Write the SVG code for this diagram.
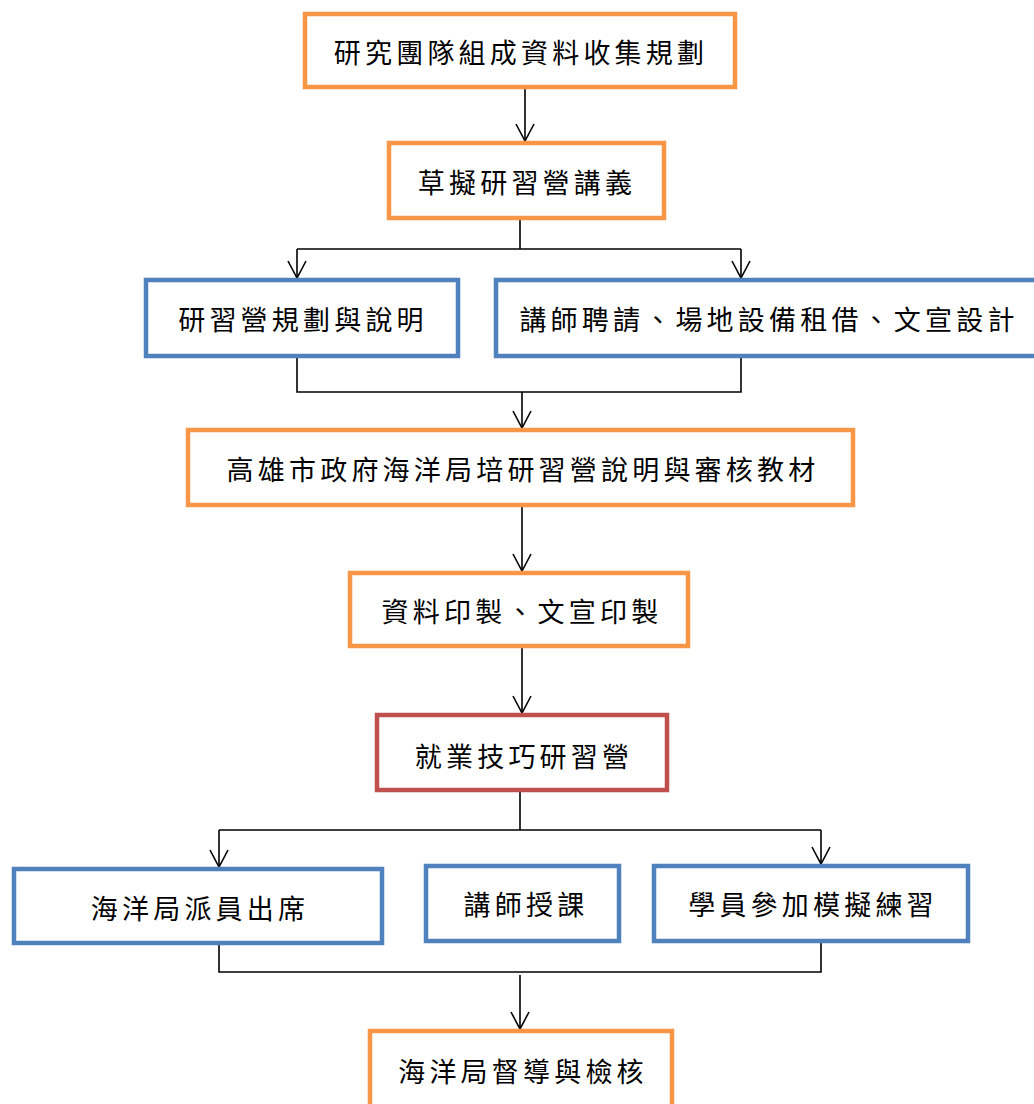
<svg xmlns="http://www.w3.org/2000/svg" width="1034" height="1104" viewBox="0 0 1034 1104">
<style>
.box{fill:#fff;stroke-width:4.5}
.o{stroke:#F79646}
.b{stroke:#4F81BD}
.r{stroke:#C0504D}
.t{font-family:"Noto Sans CJK TC","Noto Sans CJK SC",sans-serif;font-size:27px;letter-spacing:4.2px;text-anchor:middle;dominant-baseline:central;fill:#000}
.c{fill:none;stroke:#000;stroke-width:1.6}
</style>
<defs>
<marker id="ah" markerUnits="userSpaceOnUse" viewBox="-20 -12 22 24" markerWidth="22" markerHeight="24" refX="0" refY="0" orient="auto" overflow="visible">
<path d="M-17,-9 L0,0 L-17,9" fill="none" stroke="#000" stroke-width="1.6"/>
</marker>
</defs>
<rect width="1034" height="1104" fill="#fff"/>
<g id="connectors">
<path class="c" d="M525,89 V141" marker-end="url(#ah)"/>
<path class="c" d="M520,220 V249 M297,249 H741"/>
<path class="c" d="M297,249 V278" marker-end="url(#ah)"/>
<path class="c" d="M741,249 V278" marker-end="url(#ah)"/>
<path class="c" d="M297,358 V392 H741 V358"/>
<path class="c" d="M522,392 V428" marker-end="url(#ah)"/>
<path class="c" d="M522,507 V571" marker-end="url(#ah)"/>
<path class="c" d="M522,648 V713" marker-end="url(#ah)"/>
<path class="c" d="M520,792 V830 M219,830 H821"/>
<path class="c" d="M219,830 V867" marker-end="url(#ah)"/>
<path class="c" d="M821,830 V864" marker-end="url(#ah)"/>
<path class="c" d="M219,945 V972 H821 V943"/>
<path class="c" d="M520,975 V1029" marker-end="url(#ah)"/>
</g>
<g id="n1"><rect class="box o" x="305" y="14" width="430" height="73"/><text class="t" x="521" y="51">研究團隊組成資料收集規劃</text></g>
<g id="n2"><rect class="box o" x="389" y="143" width="275" height="75"/><text class="t" x="527" y="181">草擬研習營講義</text></g>
<g id="n3"><rect class="box b" x="146" y="280" width="312" height="76"/><text class="t" x="303" y="318">研習營規劃與說明</text></g>
<g id="n4"><rect class="box b" x="496" y="280" width="560" height="76"/><text class="t" x="769" y="318">講師聘請、場地設備租借、文宣設計</text></g>
<g id="n5"><rect class="box o" x="188" y="430" width="665" height="75"/><text class="t" x="523" y="468">高雄市政府海洋局培研習營說明與審核教材</text></g>
<g id="n6"><rect class="box o" x="350" y="573" width="338" height="73"/><text class="t" x="522" y="610">資料印製、文宣印製</text></g>
<g id="n7"><rect class="box r" x="377" y="715" width="290" height="75"/><text class="t" x="524" y="755">就業技巧研習營</text></g>
<g id="n8"><rect class="box b" x="14" y="869" width="368" height="74"/><text class="t" x="200" y="907">海洋局派員出席</text></g>
<g id="n9"><rect class="box b" x="426" y="866" width="193" height="75"/><text class="t" x="526" y="903">講師授課</text></g>
<g id="n10"><rect class="box b" x="654" y="866" width="314" height="75"/><text class="t" x="813" y="903">學員參加模擬練習</text></g>
<g id="n11"><rect class="box o" x="370" y="1031" width="302" height="90"/><text class="t" x="523" y="1070">海洋局督導與檢核</text></g>
</svg>
